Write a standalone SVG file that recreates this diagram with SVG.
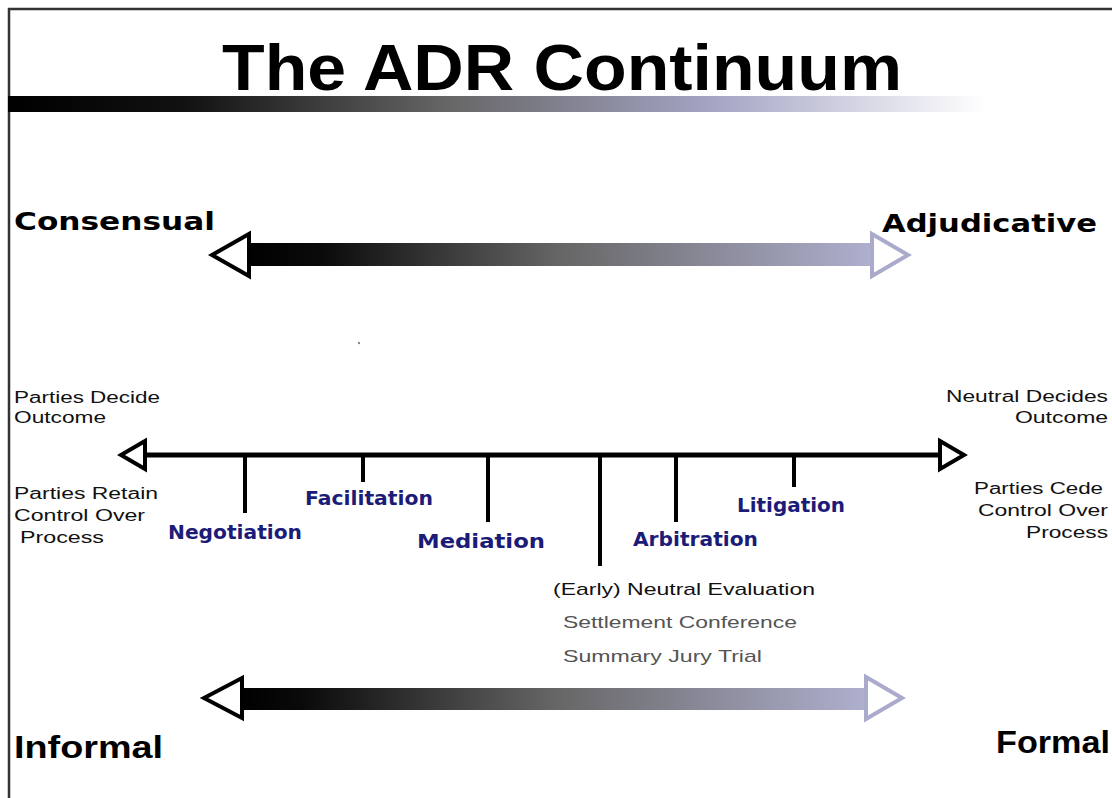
<svg xmlns="http://www.w3.org/2000/svg" width="1112" height="798" viewBox="0 0 1112 798">
<defs>
<linearGradient id="titleBar" x1="8" y1="0" x2="985" y2="0" gradientUnits="userSpaceOnUse">
<stop offset="0" stop-color="#000"/>
<stop offset="0.18" stop-color="#111"/>
<stop offset="0.45" stop-color="#666"/>
<stop offset="0.72" stop-color="#a4a4c4"/>
<stop offset="1" stop-color="#fff"/>
</linearGradient>
<linearGradient id="shaftTop" x1="245" y1="0" x2="875" y2="0" gradientUnits="userSpaceOnUse">
<stop offset="0" stop-color="#000"/>
<stop offset="0.12" stop-color="#0a0a0a"/>
<stop offset="0.5" stop-color="#666"/>
<stop offset="1" stop-color="#b0b0d0"/>
</linearGradient>
<linearGradient id="shaftBot" x1="240" y1="0" x2="870" y2="0" gradientUnits="userSpaceOnUse">
<stop offset="0" stop-color="#000"/>
<stop offset="0.1" stop-color="#0a0a0a"/>
<stop offset="0.5" stop-color="#666"/>
<stop offset="1" stop-color="#b0b0d0"/>
</linearGradient>
<style>
.heavy{font-family:"DejaVu Sans","Liberation Sans",sans-serif;font-weight:bold;fill:#000}
.cond{font-family:"Liberation Sans",Arial,sans-serif;font-weight:bold;fill:#000}
.side{font-family:"Liberation Sans",Arial,sans-serif;font-size:16px;fill:#111}
.proc{font-family:"DejaVu Sans","Liberation Sans",sans-serif;font-weight:bold;font-size:19px;fill:#1c1c78}
.sub{font-family:"Liberation Sans",Arial,sans-serif;font-size:17px}
.tick{stroke:#000;stroke-width:4}
</style>
</defs>
<rect width="1112" height="798" fill="#fff"/>
<g id="frame" fill="none" stroke="#333" stroke-width="2.5">
<polyline points="9,798 9,9 1112,9"/>
</g>
<g id="title">
<text class="cond" x="222" y="90" font-size="64" textLength="680" lengthAdjust="spacingAndGlyphs">The ADR Continuum</text>
<rect x="8" y="96" width="977" height="16" fill="url(#titleBar)"/>
</g>
<g id="consensual"><text class="heavy" x="14" y="230" font-size="25" textLength="201" lengthAdjust="spacingAndGlyphs">Consensual</text></g>
<g id="adjudicative"><text class="heavy" x="882" y="232" font-size="25" textLength="215" lengthAdjust="spacingAndGlyphs">Adjudicative</text></g>
<g id="informal"><text class="cond" x="14" y="758" font-size="31" textLength="149" lengthAdjust="spacingAndGlyphs">Informal</text></g>
<g id="formal"><text class="cond" x="996" y="753" font-size="31" textLength="114" lengthAdjust="spacingAndGlyphs">Formal</text></g>
<g id="connectors">
<g id="top-arrow">
<rect x="248" y="243" width="624" height="23" fill="url(#shaftTop)"/>
<polygon points="212,255 249,234 249,276" fill="#fff" stroke="#000" stroke-width="4" stroke-linejoin="miter"/>
<polygon points="908,255 872,234 872,276" fill="#fff" stroke="#aaaacc" stroke-width="4"/>
</g>
<g id="middle-line">
<line x1="143" y1="455" x2="942" y2="455" stroke="#000" stroke-width="5"/>
<polygon points="121,455 145,441 145,469" fill="#fff" stroke="#000" stroke-width="4"/>
<polygon points="964,455 940,441 940,469" fill="#fff" stroke="#000" stroke-width="4"/>
<line class="tick" x1="245" y1="455" x2="245" y2="513"/>
<line class="tick" x1="363" y1="455" x2="363" y2="482"/>
<line class="tick" x1="488" y1="455" x2="488" y2="522"/>
<line class="tick" x1="600" y1="455" x2="600" y2="566"/>
<line class="tick" x1="676" y1="455" x2="676" y2="522"/>
<line class="tick" x1="794" y1="455" x2="794" y2="487"/>
</g>
<g id="bottom-arrow">
<rect x="242" y="688" width="625" height="22" fill="url(#shaftBot)"/>
<polygon points="204,698 242,678 242,718" fill="#fff" stroke="#000" stroke-width="4"/>
<polygon points="902,698 866,677 866,719" fill="#fff" stroke="#aaaacc" stroke-width="4"/>
</g>
</g>
<g id="left-labels">
<text class="side" x="14" y="403" textLength="146" lengthAdjust="spacingAndGlyphs">Parties Decide</text>
<text class="side" x="14" y="423" textLength="92" lengthAdjust="spacingAndGlyphs">Outcome</text>
<text class="side" x="14" y="499" textLength="144" lengthAdjust="spacingAndGlyphs">Parties Retain</text>
<text class="side" x="14" y="521" textLength="131" lengthAdjust="spacingAndGlyphs">Control Over</text>
<text class="side" x="20" y="543" textLength="84" lengthAdjust="spacingAndGlyphs">Process</text>
</g>
<g id="right-labels">
<text class="side" x="946" y="402" textLength="162" lengthAdjust="spacingAndGlyphs">Neutral Decides</text>
<text class="side" x="1015" y="423" textLength="93" lengthAdjust="spacingAndGlyphs">Outcome</text>
<text class="side" x="974" y="494" textLength="129" lengthAdjust="spacingAndGlyphs">Parties Cede</text>
<text class="side" x="978" y="516" textLength="130" lengthAdjust="spacingAndGlyphs">Control Over</text>
<text class="side" x="1026" y="538" textLength="82" lengthAdjust="spacingAndGlyphs">Process</text>
</g>
<g id="negotiation"><text class="proc" x="168" y="539" textLength="134" lengthAdjust="spacingAndGlyphs">Negotiation</text></g>
<g id="facilitation"><text class="proc" x="305" y="505" textLength="128" lengthAdjust="spacingAndGlyphs">Facilitation</text></g>
<g id="mediation"><text class="proc" x="417" y="548" font-size="21" textLength="128" lengthAdjust="spacingAndGlyphs">Mediation</text></g>
<g id="arbitration"><text class="proc" x="633" y="546" textLength="125" lengthAdjust="spacingAndGlyphs">Arbitration</text></g>
<g id="litigation"><text class="proc" x="737" y="512" textLength="108" lengthAdjust="spacingAndGlyphs">Litigation</text></g>
<g id="neutral-evaluation">
<text class="sub" x="553" y="595" fill="#111" textLength="262" lengthAdjust="spacingAndGlyphs">(Early) Neutral Evaluation</text>
<text class="sub" x="563" y="628" fill="#555" textLength="234" lengthAdjust="spacingAndGlyphs">Settlement Conference</text>
<text class="sub" x="563" y="662" fill="#555" textLength="199" lengthAdjust="spacingAndGlyphs">Summary Jury Trial</text>
</g>
<circle cx="359" cy="343" r="1.2" fill="#888"/>
</svg>
